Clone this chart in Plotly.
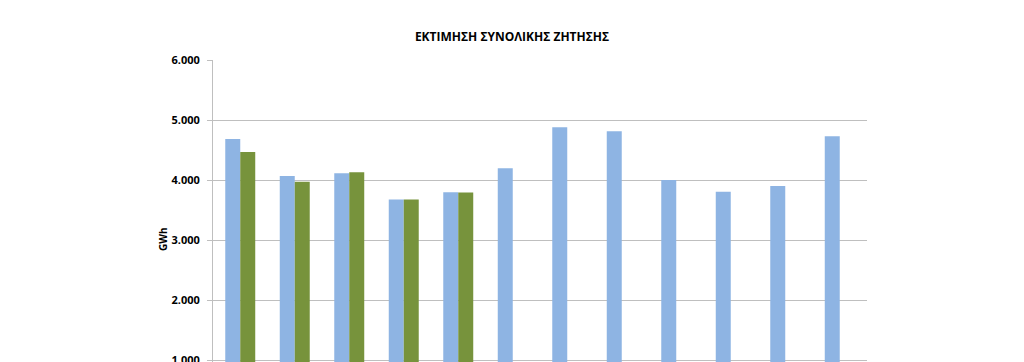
import plotly.graph_objects as go

categories = ["Ιαν", "Φεβ", "Μαρ", "Απρ", "Μαϊ", "Ιουν", "Ιουλ", "Αυγ", "Σεπ", "Οκτ", "Νοε", "Δεκ"]
estimate = [4683, 4067, 4111, 3675, 3795, 4194, 4878, 4811, 4000, 3806, 3900, 4728]
actual = [4467, 3972, 4128, 3675, 3790, None, None, None, None, None, None, None]
y_ticks = [0, 1000, 2000, 3000, 4000, 5000, 6000]

fig = go.Figure()
fig.add_trace(go.Bar(x=categories, y=estimate, name="Εκτίμηση", marker=dict(color="#8EB4E3", line=dict(width=0))))
fig.add_trace(go.Bar(x=categories, y=actual, name="Πραγματική", marker=dict(color="#77933C", line=dict(width=0))))

H = 362
top = 60
fig.update_layout(
    width=1024, height=H,
    margin=dict(l=213, r=157, t=top, b=0, autoexpand=False),
    paper_bgcolor="white", plot_bgcolor="white",
    separators=",.",
    barmode="group", bargap=0.45, bargroupgap=0,
    showlegend=False,
    font=dict(family="Open Sans, DejaVu Sans, sans-serif", color="#000000"),
    title=dict(text="<b>ΕΚΤΙΜΗΣΗ ΣΥΝΟΛΙΚΗΣ ΖΗΤΗΣΗΣ</b>", xref="paper", xanchor="center",
               y=1 - 37 / H, yanchor="middle", font=dict(size=12, color="#000000")),
)
fig.layout.title.x = (512 - 213) / 654
fig.update_yaxes(
    range=[6000 - (H - top) / 60 * 1000, 6000],
    tickvals=y_ticks, tickformat=",d",
    showgrid=True, gridcolor="#BFBFBF", gridwidth=1,
    showline=True, linecolor="#BFBFBF", linewidth=1,
    ticks="outside", ticklen=5, tickcolor="#BFBFBF",
    tickfont=dict(size=11, weight="bold", color="#000000"),
    ticklabelstandoff=5, ticklabeloverflow="allow",
    zeroline=False, automargin=False,
)
fig.update_xaxes(showticklabels=False, showline=False, ticks="", automargin=False)
fig.add_annotation(
    text="GWh", textangle=-90, xref="paper", yref="paper",
    x=(163 - 213) / 654, y=(H - 240) / (H - top), xanchor="center", yanchor="middle",
    showarrow=False, font=dict(size=10, weight="bold", color="#000000"),
)
fig.write_html("out.html")
